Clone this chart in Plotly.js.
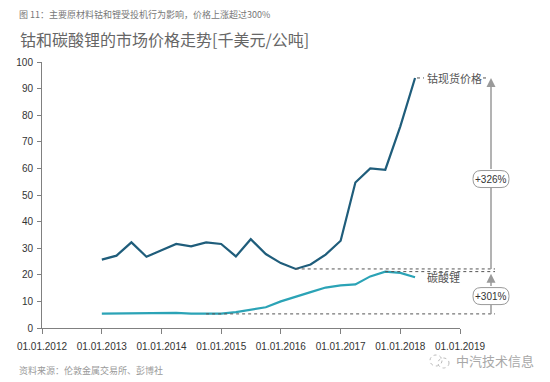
<!DOCTYPE html>
<html>
<head>
<meta charset="utf-8">
<script src="https://cdn.plot.ly/plotly-3.0.1.min.js"></script>
<style>html,body{margin:0;padding:0;background:#fff;}#chart{width:550px;height:382px;}</style>
</head>
<body>
<div id="chart"></div>
<script>
// ---- data ----
var dates = ['2013-01-01','2013-04-01','2013-07-01','2013-10-01',
             '2014-01-01','2014-04-01','2014-07-01','2014-10-01',
             '2015-01-01','2015-04-01','2015-07-01','2015-10-01',
             '2016-01-01','2016-04-01','2016-07-01','2016-10-01',
             '2017-01-01','2017-04-01','2017-07-01','2017-10-01',
             '2018-01-01','2018-04-01'];
var cobalt = [25.7, 27.2, 32.2, 26.8, 29.2, 31.6, 30.7, 32.2, 31.6, 26.9, 33.4, 27.8,
              24.4, 22.2, 23.9, 27.6, 32.8, 54.7, 60.0, 59.5, 75.8, 94.0];
var lithium = [5.4, 5.5, 5.6, 5.6, 5.7, 5.7, 5.4, 5.3, 5.4, 6.0, 6.8, 7.8,
               10.0, 11.9, 13.5, 15.2, 16.0, 16.4, 19.4, 21.2, 20.7, 19.1];
var xTickVals = ['2012-01-01','2013-01-01','2014-01-01','2015-01-01','2016-01-01','2017-01-01','2018-01-01','2019-01-01'];
var xTickText = ['01.01.2012','01.01.2013','01.01.2014','01.01.2015','01.01.2016','01.01.2017','01.01.2018','01.01.2019'];
var yTickVals = [0,10,20,30,40,50,60,70,80,90,100];
var seriesNames = ['钴现货价格','碳酸锂'];
var changeLabels = ['+326%','+301%'];
var caption = '图 11：主要原材料钴和锂受投机行为影响，价格上涨超过300%';
var titleText = '钴和碳酸锂的市场价格走势[千美元/公吨]';
var sourceText = '资料来源：伦敦金属交易所、彭博社';
var watermark = '中汽技术信息';

// ---- helpers ----
var FONT = '"Liberation Sans", Arial, "Noto Sans CJK SC", sans-serif';
var CJK = '"Noto Sans CJK SC", "Liberation Sans", sans-serif';
var xStart = '2012-01-01', xEnd = '2019-01-01';
var W = 550, H = 382, ML = 42, MR = 90, MT = 62, MB = 54;
var PW = W - ML - MR, PH = H - MT - MB;
function frac(d){ return (Date.parse(d) - Date.parse(xStart)) / (Date.parse(xEnd) - Date.parse(xStart)); }
function px2paperX(p){ return (p - ML) / PW; }
function px2paperY(p){ return (H - MB - p) / PH; }
var yPerPx = 100 / PH;

function argmin(a){ var k=0; for(var i=1;i<a.length;i++) if(a[i]<a[k]) k=i; return k; }
function argmax(a){ var k=0; for(var i=1;i<a.length;i++) if(a[i]>a[k]) k=i; return k; }

var coMinI = argmin(cobalt), coMaxI = argmax(cobalt);
var liMinI = argmin(lithium), liMaxI = argmax(lithium);
var coMin = cobalt[coMinI], coMax = cobalt[coMaxI];
var liMin = lithium[liMinI], liMax = lithium[liMaxI];
var last = dates.length - 1;

var arrowX = px2paperX(491);
var dotEnd = px2paperX(495);
var grey = '#9a9a9a';

function pill(cxp, cy, wpx, hpx, rpx){
  var hw = wpx/2/PW, hh = hpx/2*yPerPx, rx = rpx/PW, ry = rpx*yPerPx;
  var L = cxp-hw, R = cxp+hw, T = cy+hh, B = cy-hh;
  return 'M'+(L+rx)+','+T+' L'+(R-rx)+','+T+' Q'+R+','+T+' '+R+','+(T-ry)+
         ' L'+R+','+(B+ry)+' Q'+R+','+B+' '+(R-rx)+','+B+
         ' L'+(L+rx)+','+B+' Q'+L+','+B+' '+L+','+(B+ry)+
         ' L'+L+','+(T-ry)+' Q'+L+','+T+' '+(L+rx)+','+T+' Z';
}

var boxW = 36, boxH = 17;
var box1Y = 56, box2Y = 12;

var shapes = [
  // dotted reference lines
  {type:'line', xref:'paper', yref:'y', x0:frac(dates[coMinI]), x1:dotEnd, y0:coMin, y1:coMin, line:{color:'#555', width:1, dash:'dot'}},
  {type:'line', xref:'paper', yref:'y', x0:frac(dates[liMaxI]), x1:dotEnd, y0:liMax, y1:liMax, line:{color:'#555', width:1, dash:'dot'}},
  {type:'line', xref:'paper', yref:'y', x0:frac(dates[liMinI]), x1:dotEnd, y0:liMin, y1:liMin, line:{color:'#555', width:1, dash:'dot'}},
  // leaders for cobalt label
  {type:'line', xref:'paper', yref:'y', x0:px2paperX(417), x1:px2paperX(424), y0:coMax, y1:coMax, line:{color:'#555', width:1, dash:'dot'}},
  {type:'line', xref:'paper', yref:'y', x0:px2paperX(483), x1:px2paperX(489), y0:coMax, y1:coMax, line:{color:'#555', width:1, dash:'dot'}},
  // vertical lines below boxes
  {type:'line', xref:'paper', yref:'y', x0:arrowX, x1:arrowX, y0:coMin, y1:box1Y - boxH/2*yPerPx, line:{color:grey, width:1.5}},
  {type:'line', xref:'paper', yref:'y', x0:arrowX, x1:arrowX, y0:liMin, y1:box2Y - boxH/2*yPerPx, line:{color:grey, width:1.5}},
  // pill boxes
  {type:'path', xref:'paper', yref:'y', path:pill(arrowX, box1Y, boxW, boxH, 8), fillcolor:'#fff', line:{color:grey, width:1}},
  {type:'path', xref:'paper', yref:'y', path:pill(arrowX, box2Y, boxW, boxH, 8), fillcolor:'#fff', line:{color:grey, width:1}},
  // wechat-like icon
  {type:'circle', xref:'paper', yref:'paper', x0:px2paperX(430), x1:px2paperX(442), y0:px2paperY(366), y1:px2paperY(355), line:{color:'#bbb', width:1, dash:'dot'}},
  {type:'circle', xref:'paper', yref:'paper', x0:px2paperX(438), x1:px2paperX(449), y0:px2paperY(368), y1:px2paperY(358), line:{color:'#bbb', width:1, dash:'dot'}}
];

var annotations = [
  {xref:'paper', yref:'paper', x:px2paperX(17), y:px2paperY(15), xanchor:'left', yanchor:'middle', showarrow:false,
   text:caption, font:{family:CJK, size:9, color:'#777'}},
  {xref:'paper', yref:'paper', x:px2paperX(17), y:px2paperY(370), xanchor:'left', yanchor:'middle', showarrow:false,
   text:sourceText, font:{family:CJK, size:9, color:'#9a9a9a'}},
  {xref:'paper', yref:'paper', x:px2paperX(454), y:px2paperY(360), xanchor:'left', yanchor:'middle', showarrow:false,
   text:watermark, font:{family:CJK, size:13, color:'#a8a8a8'}},
  {xref:'paper', yref:'y', x:px2paperX(425), y:coMax, xanchor:'left', yanchor:'middle', showarrow:false,
   text:seriesNames[0], font:{family:CJK, size:11, color:'#555'}},
  {xref:'paper', yref:'y', x:px2paperX(425), y:lithium[last], xanchor:'left', yanchor:'middle', showarrow:false,
   text:seriesNames[1], font:{family:CJK, size:11, color:'#555'}},
  // arrows
  {xref:'paper', yref:'y', x:arrowX, y:coMax, axref:'pixel', ax:0, ayref:'y', ay:box1Y + boxH/2*yPerPx,
   text:'', showarrow:true, arrowhead:2, arrowsize:1.2, arrowwidth:1.5, arrowcolor:grey, standoff:0, startstandoff:0},
  {xref:'paper', yref:'y', x:arrowX, y:liMax - 0.8, axref:'pixel', ax:0, ayref:'y', ay:box2Y + boxH/2*yPerPx,
   text:'', showarrow:true, arrowhead:2, arrowsize:1.2, arrowwidth:1.5, arrowcolor:grey, standoff:0, startstandoff:0},
  // box labels
  {xref:'paper', yref:'y', x:arrowX, y:box1Y, xanchor:'center', yanchor:'middle', showarrow:false,
   text:changeLabels[0], font:{family:FONT, size:10, color:'#333'}},
  {xref:'paper', yref:'y', x:arrowX, y:box2Y, xanchor:'center', yanchor:'middle', showarrow:false,
   text:changeLabels[1], font:{family:FONT, size:10, color:'#333'}}
];

var traces = [
  {x:dates, y:cobalt, type:'scatter', mode:'lines', name:seriesNames[0], line:{color:'#1f5d7b', width:2.2}, hoverinfo:'skip'},
  {x:dates, y:lithium, type:'scatter', mode:'lines', name:seriesNames[1], line:{color:'#2ba3b6', width:2.2}, hoverinfo:'skip'}
];

var layout = {
  width:W, height:H,
  margin:{l:ML, r:MR, t:MT, b:MB, pad:0},
  paper_bgcolor:'#fff', plot_bgcolor:'#fff',
  showlegend:false,
  font:{family:FONT, size:10, color:'#333'},
  title:{text:titleText, xref:'container', yref:'container', x:20/W, xanchor:'left', y:1-40/H, yanchor:'middle',
         font:{family:CJK, size:16, color:'#666'}},
  xaxis:{type:'date', range:[xStart, xEnd], tickmode:'array', tickvals:xTickVals, ticktext:xTickText,
         showgrid:false, zeroline:false, showline:true, linecolor:'#808080', linewidth:1,
         ticks:'outside', ticklen:5, tickcolor:'#808080', ticklabelstandoff:4,
         tickfont:{family:FONT, size:10, color:'#333'}},
  yaxis:{range:[0,100], tickmode:'array', tickvals:yTickVals, showgrid:false, zeroline:false,
         showline:true, linecolor:'#808080', linewidth:1, ticks:'outside', ticklen:4, tickcolor:'#808080',
         ticklabelstandoff:2, tickfont:{family:FONT, size:10, color:'#333'}},
  shapes:shapes,
  annotations:annotations
};

Plotly.newPlot('chart', traces, layout, {staticPlot:true, displayModeBar:false});
</script>
</body>
</html>
